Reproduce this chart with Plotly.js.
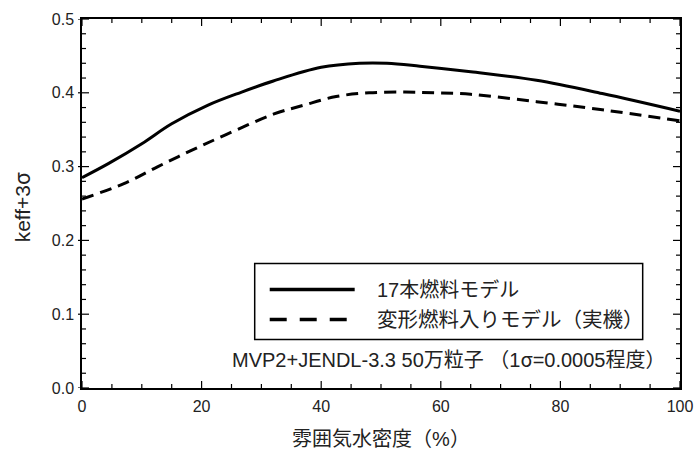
<!DOCTYPE html>
<html>
<head>
<meta charset="utf-8">
<script src="https://cdn.plot.ly/plotly-3.0.1.min.js"></script>
<style>html,body{margin:0;padding:0;background:#fff;}</style>
</head>
<body>
<div id="chart" style="width:695px;height:452px;"></div>
<script>
// Series names
const seriesNames = ["17本燃料モデル", "変形燃料入りモデル（実機）"];
// Solid: 17本燃料モデル
const solidX = [0, 4.4, 10, 15, 21, 26.7, 32, 40, 46.4, 51, 56.5, 65, 76, 87, 100];
const solidY = [0.285, 0.304, 0.331, 0.358, 0.383, 0.401, 0.416, 0.4345, 0.440, 0.440, 0.436, 0.4285, 0.417, 0.399, 0.375];
// Dashed: 変形燃料入りモデル（実機）
const dashX = [0, 7, 12.7, 18.3, 24, 32, 37, 42.5, 48, 54, 59, 65, 76, 87, 100];
const dashY = [0.256, 0.277, 0.300, 0.322, 0.343, 0.371, 0.383, 0.395, 0.400, 0.401, 0.400, 0.398, 0.388, 0.377, 0.362];
// Axis texts and ticks
const xTitle = "雰囲気水密度（%）";
const yTitle = "keff+3<span style=\"font-family:'Noto Sans CJK JP'\">σ</span>";
const noteText = "MVP2+JENDL-3.3 50万粒子 （1<span style=\"font-family:'Noto Sans CJK JP'\">σ</span>=0.0005程度）";
const xRange = [0, 100];
const yRange = [0, 0.5];
const xMajorTicks = [0, 20, 40, 60, 80, 100];
const xMinorTicks = [5, 10, 15, 25, 30, 35, 45, 50, 55, 65, 70, 75, 85, 90, 95];
const yMajorTicks = [0, 0.1, 0.2, 0.3, 0.4, 0.5];
const yMinorTicks = [0.02, 0.04, 0.06, 0.08, 0.12, 0.14, 0.16, 0.18, 0.22, 0.24, 0.26, 0.28,
                     0.32, 0.34, 0.36, 0.38, 0.42, 0.44, 0.46, 0.48];

const FONT = "Liberation Sans, Arial, Noto Sans CJK JP, sans-serif";
const W = 695, H = 452, M = {l: 82, r: 15, t: 19, b: 64};
const PW = W - M.l - M.r, PH = H - M.t - M.b;

const traces = [
  {x: solidX, y: solidY, mode: "lines", name: seriesNames[0],
   line: {color: "#000", width: 3, shape: "spline", smoothing: 1}},
  {x: dashX, y: dashY, mode: "lines", name: seriesNames[1],
   line: {color: "#000", width: 3, dash: "12px,7px", shape: "spline", smoothing: 1}}
];

// Tick marks (axis decorations on the data scale)
const shapes = [];
function xTick(v, len) {
  shapes.push({type: "line", layer: "above", xref: "x", yref: "paper", x0: v, x1: v, y0: 0, y1: len / PH,
               line: {color: "#000", width: 1.2}});
  shapes.push({type: "line", layer: "above", xref: "x", yref: "paper", x0: v, x1: v, y0: 1, y1: 1 - len / PH,
               line: {color: "#000", width: 1.2}});
}
function yTick(v, len, out) {
  shapes.push({type: "line", layer: "above", xref: "paper", yref: "y", x0: -out / PW, x1: len / PW, y0: v, y1: v,
               line: {color: "#000", width: 1.2}});
  shapes.push({type: "line", layer: "above", xref: "paper", yref: "y", x0: 1, x1: 1 - len / PW, y0: v, y1: v,
               line: {color: "#000", width: 1.2}});
}
xMajorTicks.forEach(v => xTick(v, 7));
xMinorTicks.forEach(v => xTick(v, 4));
yMajorTicks.forEach(v => yTick(v, 7, 4));
yMinorTicks.forEach(v => yTick(v, 4, 0));

// Legend geometry in paper coordinates
const lgBox = {x0: 0.2888, x1: 0.9376, y0: 0.1313, y1: 0.3374};
const rowY = [0.2669, 0.1855];
const symX = [0.3139, 0.4560];
const txtX = 0.4903;

shapes.push(
  {type: "rect", xref: "paper", yref: "paper", x0: lgBox.x0, x1: lgBox.x1, y0: lgBox.y0, y1: lgBox.y1,
   line: {color: "#000", width: 1.5}, fillcolor: "rgba(0,0,0,0)"},
  {type: "line", xref: "paper", yref: "paper", x0: symX[0], x1: symX[1], y0: rowY[0], y1: rowY[0],
   line: {color: "#000", width: 3.5}},
  {type: "line", xref: "paper", yref: "paper", x0: symX[0], x1: symX[1], y0: rowY[1], y1: rowY[1],
   line: {color: "#000", width: 3.5, dash: "17px,13px"}}
);

const annotations = [
  {xref: "paper", yref: "paper", x: txtX, y: rowY[0], xanchor: "left", yanchor: "middle",
   text: seriesNames[0], showarrow: false, font: {family: FONT, size: 20, color: "#222"}},
  {xref: "paper", yref: "paper", x: txtX, y: rowY[1], xanchor: "left", yanchor: "middle",
   text: seriesNames[1], showarrow: false, font: {family: FONT, size: 20.5, color: "#222"}},
  {xref: "paper", yref: "paper", x: 0.979, y: 0.0797, xanchor: "right", yanchor: "middle",
   text: noteText, showarrow: false, font: {family: FONT, size: 20, color: "#222"}},
  // y-axis title
  {xref: "paper", yref: "paper", x: -0.1025, y: 0.4887, xanchor: "center", yanchor: "middle",
   textangle: -90, text: yTitle, showarrow: false, font: {family: FONT, size: 21, color: "#222"}}
];

const layout = {
  width: W, height: H,
  margin: M,
  paper_bgcolor: "#fff", plot_bgcolor: "#fff",
  showlegend: false,
  font: {family: FONT, color: "#222"},
  xaxis: {
    range: xRange, tickmode: "array", tickvals: xMajorTicks, ticks: "",
    showline: true, linecolor: "#000", linewidth: 1.5, mirror: true,
    showgrid: false, zeroline: false,
    tickfont: {family: FONT, size: 16, color: "#222"},
    ticklabelstandoff: 3,
    title: {text: xTitle, font: {family: FONT, size: 20, color: "#222"}, standoff: 18}
  },
  yaxis: {
    range: yRange, tickmode: "array", tickvals: yMajorTicks, tickformat: ".1f", ticks: "",
    showline: true, linecolor: "#000", linewidth: 1.5, mirror: true,
    showgrid: false, zeroline: false,
    tickfont: {family: FONT, size: 16, color: "#222"},
    ticklabelstandoff: 3
  },
  shapes: shapes,
  annotations: annotations
};

Plotly.newPlot("chart", traces, layout, {displayModeBar: false});
</script>
</body>
</html>
